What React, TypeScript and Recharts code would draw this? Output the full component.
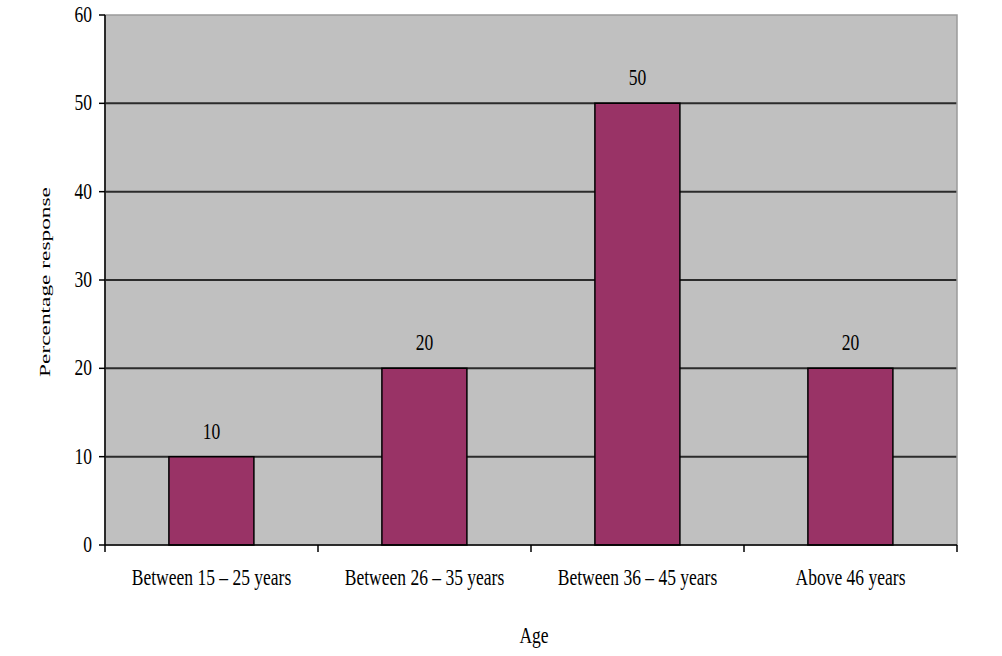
import React from 'react';
import {
  Bar,
  BarChart,
  CartesianGrid,
  LabelList,
  ReferenceArea,
  XAxis,
  YAxis,
} from 'recharts';

const AGE_GROUPS = ['Between 15 – 25 years', 'Between 26 – 35 years', 'Between 36 – 45 years', 'Above 46 years'];
const RESPONSES = [10, 20, 50, 20];
const Y_TICKS = [0, 10, 20, 30, 40, 50, 60];
const GRID_VALUES = [10, 20, 30, 40, 50];

const chartData = AGE_GROUPS.map((group, i) => ({ group, value: RESPONSES[i] }));

const FONT = '"Liberation Serif", "Times New Roman", serif';
const X_TICK_SIZE = 6;
const X_TICK_MARGIN = 2;

// narrow serif text, like the old office-chart export
const Squeezed = ({
  x,
  y,
  anchor = 'middle',
  size = 24,
  children,
}: {
  x: number;
  y: number;
  anchor?: 'start' | 'middle' | 'end';
  size?: number;
  children: React.ReactNode;
}) => (
  <text
    transform={`translate(${x},${y}) scale(0.73,1)`}
    textAnchor={anchor}
    fontSize={size}
    fontFamily={FONT}
    fill="#000"
  >
    {children}
  </text>
);

// category label plus tick marks on the band edges instead of the band centre
const XTick = (props: any) => {
  const { x, y, payload, index, visibleTicksCount } = props;
  const half = payload.offset || 0;
  const axisY = y - X_TICK_SIZE - X_TICK_MARGIN;
  const edges = [x - half];
  if (index === visibleTicksCount - 1) edges.push(x + half);
  return (
    <g>
      {edges.map((ex) => (
        <line key={ex} x1={ex} x2={ex} y1={axisY} y2={axisY + 7} stroke="#000" strokeWidth={1.5} />
      ))}
      <Squeezed x={x} y={y + 32}>
        {payload.value}
      </Squeezed>
    </g>
  );
};

const YTick = (props: any) => (
  <Squeezed x={props.x} y={props.y + 7} anchor="end">
    {props.payload.value}
  </Squeezed>
);

const ValueLabel = (props: any) => {
  const { x = 0, y = 0, width = 0, value } = props;
  return (
    <Squeezed x={Number(x) + Number(width) / 2} y={Number(y) - 18}>
      {value}
    </Squeezed>
  );
};

const YTitle = (props: any) => {
  const vb = props.viewBox || {};
  const cy = vb.y + vb.height / 2 + 2;
  return (
    <text
      transform={`translate(45,${cy}) rotate(-90) scale(1.46,0.9)`}
      textAnchor="middle"
      dominantBaseline="central"
      fontSize={16}
      fontFamily={FONT}
      fill="#000"
    >
      Percentage response
    </text>
  );
};

const XTitle = (props: any) => {
  const vb = props.viewBox || {};
  return (
    <Squeezed x={vb.x + vb.width / 2 + 3} y={vb.y + 98}>
      Age
    </Squeezed>
  );
};

export default function App() {
  return (
    <div style={{ position: 'absolute', top: 0, left: 0, width: 1002, height: 656, background: '#fff' }}>
      <BarChart
        width={1002}
        height={656}
        data={chartData}
        margin={{ top: 15, right: 45, left: 0, bottom: 51 }}
        barCategoryGap="30%"
      >
        <CartesianGrid
          vertical={false}
          horizontalValues={GRID_VALUES}
          stroke="#2b2b2b"
          strokeWidth={2}
          fill="#c0c0c0"
          fillOpacity={1}
        />
        {/* thin grey frame along the top and right of the plot */}
        <ReferenceArea y1={0} y2={60} fill="none" stroke="#9a9a9a" strokeWidth={1.5} />
        <XAxis
          dataKey="group"
          height={60}
          axisLine={{ stroke: '#000', strokeWidth: 1.5 }}
          tickLine={false}
          tickSize={X_TICK_SIZE}
          tickMargin={X_TICK_MARGIN}
          interval={0}
          tick={XTick}
          label={{ content: XTitle }}
        />
        <YAxis
          width={105}
          domain={[0, 60]}
          ticks={Y_TICKS}
          interval={0}
          axisLine={{ stroke: '#000', strokeWidth: 1.5 }}
          tickLine={{ stroke: '#000', strokeWidth: 1.5 }}
          tickSize={6}
          tickMargin={7}
          tick={YTick}
          label={{ content: YTitle }}
        />
        <Bar dataKey="value" fill="#993366" stroke="#000" strokeWidth={1.5} isAnimationActive={false}>
          <LabelList dataKey="value" content={ValueLabel} />
        </Bar>
      </BarChart>
    </div>
  );
}
